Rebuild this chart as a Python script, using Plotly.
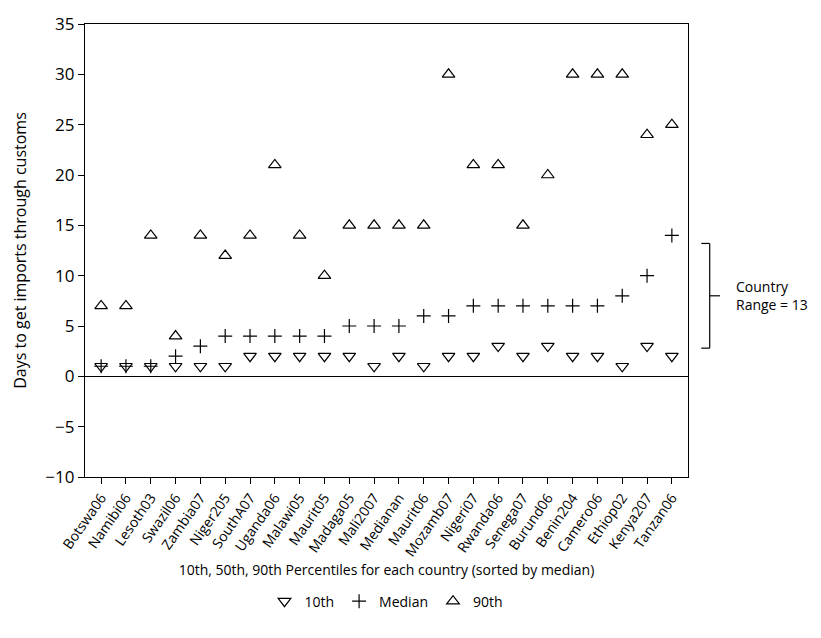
import plotly.graph_objects as go

countries = ["Botswa06", "Namibi06", "Lesoth03", "Swazil06", "Zambia07", "Niger205",
             "SouthA07", "Uganda06", "Malawi05", "Maurit05", "Madaga05", "Mali2007",
             "Medianan", "Maurit06", "Mozamb07", "Nigeri07", "Rwanda06", "Senega07",
             "Burund06", "Benin204", "Camero06", "Ethiop02", "Kenya207", "Tanzan06"]
p10 = [1, 1, 1, 1, 1, 1, 2, 2, 2, 2, 2, 1, 2, 1, 2, 2, 3, 2, 3, 2, 2, 1, 3, 2]
p50 = [1, 1, 1, 2, 3, 4, 4, 4, 4, 4, 5, 5, 5, 6, 6, 7, 7, 7, 7, 7, 7, 8, 10, 14]
p90 = [7, 7, 14, 4, 14, 12, 14, 21, 14, 10, 15, 15, 15, 15, 30, 21, 21, 15, 20, 30, 30, 30, 24, 25]

bracket_top = 13.2
bracket_bottom = 2.8
bracket_label = "Country<br>Range = 13"

FONT = "Open Sans, Noto Sans, sans-serif"

fig = go.Figure()
fig.add_trace(go.Scatter(x=countries, y=p10, mode="markers", name="10th",
                         marker=dict(symbol="triangle-down-open", size=11, color="black",
                                     line=dict(width=1.2, color="black"))))
fig.add_trace(go.Scatter(x=countries, y=p50, mode="markers", name="Median",
                         marker=dict(symbol="cross-thin-open", size=10, color="black",
                                     line=dict(width=1.2, color="black"))))
fig.add_trace(go.Scatter(x=countries, y=p90, mode="markers", name="90th",
                         marker=dict(symbol="triangle-up-open", size=11, color="black",
                                     line=dict(width=1.2, color="black"))))

mid = (bracket_top + bracket_bottom) / 2
line = dict(color="black", width=1.2)
fig.add_shape(type="line", xref="paper", yref="y", x0=1.036, x1=1.036, y0=bracket_bottom, y1=bracket_top, line=line)
fig.add_shape(type="line", xref="paper", yref="y", x0=1.022, x1=1.036, y0=bracket_top, y1=bracket_top, line=line)
fig.add_shape(type="line", xref="paper", yref="y", x0=1.022, x1=1.036, y0=bracket_bottom, y1=bracket_bottom, line=line)
fig.add_shape(type="line", xref="paper", yref="y", x0=1.036, x1=1.053, y0=mid, y1=mid, line=line)
fig.add_annotation(xref="paper", yref="y", x=1.077, y=mid, text=bracket_label, showarrow=False,
                   xanchor="left", yanchor="middle", align="left",
                   font=dict(family=FONT, size=14, color="black"))

fig.update_layout(
    width=821, height=638,
    margin=dict(l=85, r=133, t=17, b=161),
    paper_bgcolor="white", plot_bgcolor="white",
    font=dict(family=FONT, size=14, color="black"),
    showlegend=True,
    legend=dict(orientation="h", x=0.5, xanchor="center", y=-0.275, yanchor="middle",
                font=dict(family=FONT, size=14, color="black"), itemwidth=30,
                tracegroupgap=0),
    xaxis=dict(
        range=[-0.65, 23.65], showline=True, mirror=True, linecolor="black", linewidth=1.2,
        ticks="outside", ticklen=6, tickcolor="black", tickangle=-55,
        tickfont=dict(family=FONT, size=14), showgrid=False, zeroline=False,
        title=dict(text="10th, 50th, 90th Percentiles for each country (sorted by median)",
                   font=dict(family=FONT, size=14), standoff=0),
    ),
    yaxis=dict(
        range=[-10, 35], dtick=5, showline=True, mirror=True, linecolor="black", linewidth=1.2,
        ticks="outside", ticklen=6, tickcolor="black", showgrid=False,
        zeroline=True, zerolinecolor="black", zerolinewidth=1.2,
        tickfont=dict(family=FONT, size=17),
        title=dict(text="Days to get imports through customs", font=dict(family=FONT, size=16), standoff=14),
    ),
)

fig.write_html("out.html")
